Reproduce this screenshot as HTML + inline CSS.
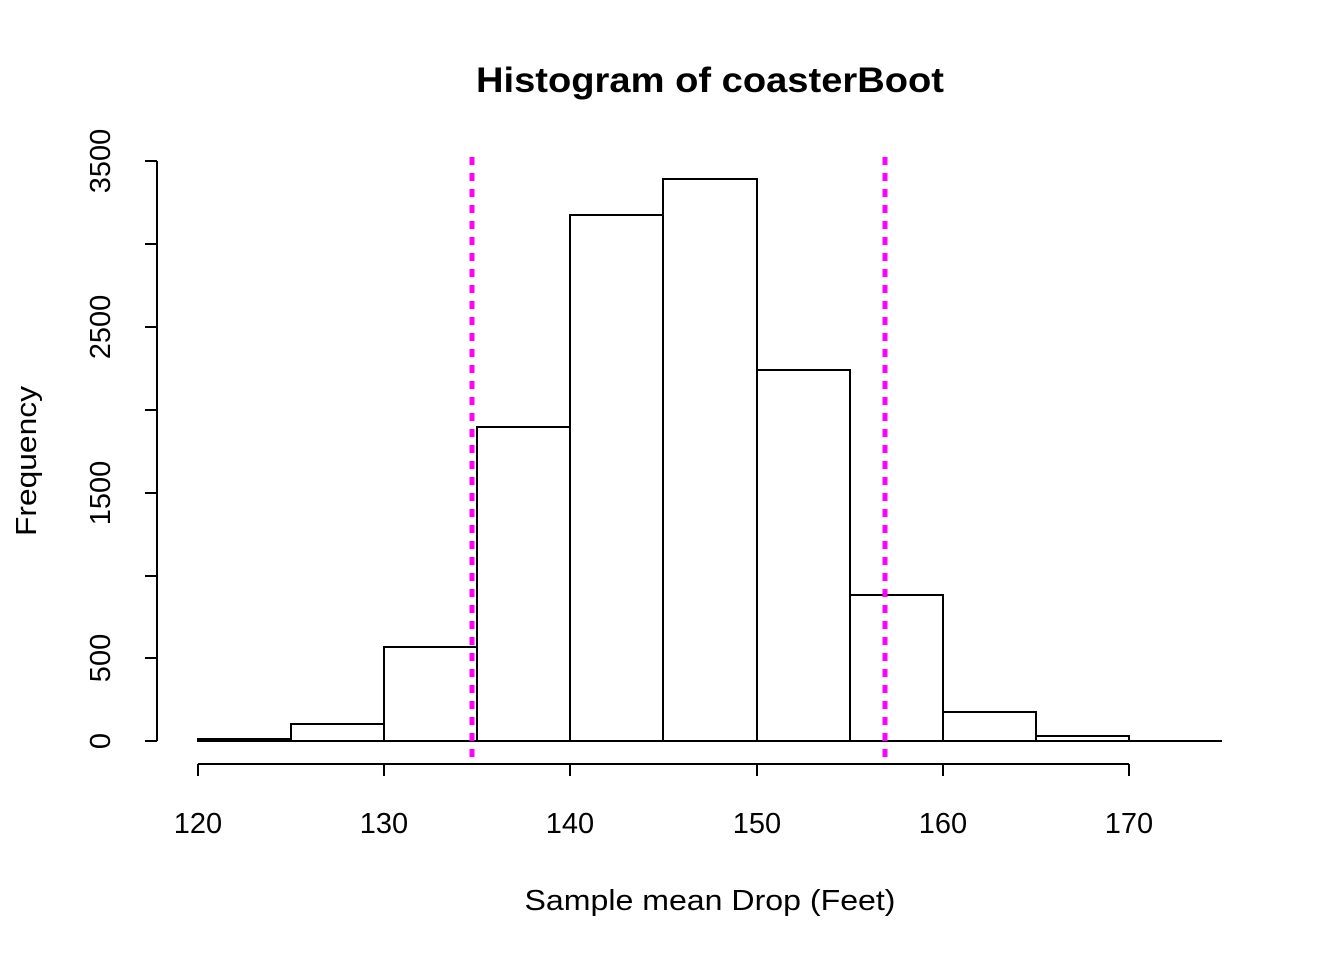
<!DOCTYPE html>
<html><head><meta charset="utf-8"><style>body{margin:0;background:#fff}</style></head><body>
<svg width="1344" height="960" xmlns="http://www.w3.org/2000/svg" font-family="Liberation Sans, sans-serif">
<rect width="1344" height="960" fill="#fff"/>
<text x="710" y="92" text-anchor="middle" font-size="35" font-weight="bold" textLength="468" lengthAdjust="spacingAndGlyphs">Histogram of coasterBoot</text>
<text x="710" y="910" text-anchor="middle" font-size="29" textLength="371" lengthAdjust="spacingAndGlyphs">Sample mean Drop (Feet)</text>
<text transform="translate(36,461) rotate(-90)" text-anchor="middle" font-size="29" textLength="150" lengthAdjust="spacingAndGlyphs">Frequency</text>
<g fill="none" stroke="#000" stroke-width="2">
<path d="M198,739H291V741H198Z M291,724H384V741H291Z M384,647H477V741H384Z M477,427H570V741H477Z M570,215H663V741H570Z M663,179H757V741H663Z M757,370H850V741H757Z M850,595H943V741H850Z M943,712H1036V741H943Z M1036,736H1129V741H1036Z M1129,741H1222"/>
<path d="M157,741V161 M157,741H145 M157,658H145 M157,576H145 M157,493H145 M157,410H145 M157,327H145 M157,244H145 M157,161H145"/>
<path d="M198,764H1129 M198,764V776 M384,764V776 M570,764V776 M757,764V776 M943,764V776 M1129,764V776"/>
</g>
<g font-size="29" text-anchor="middle">
<text transform="translate(110,741) rotate(-90)">0</text>
<text transform="translate(110,658) rotate(-90)">500</text>
<text transform="translate(110,493) rotate(-90)">1500</text>
<text transform="translate(110,327) rotate(-90)">2500</text>
<text transform="translate(110,161) rotate(-90)">3500</text>
<text x="198" y="833">120</text><text x="384" y="833">130</text><text x="570" y="833">140</text>
<text x="757" y="833">150</text><text x="943" y="833">160</text><text x="1129" y="833">170</text>
</g>
<g stroke="#ff00ff" stroke-width="5" stroke-dasharray="8,8">
<path d="M472,157V765 M885,157V765"/>
</g>
</svg>
</body></html>
